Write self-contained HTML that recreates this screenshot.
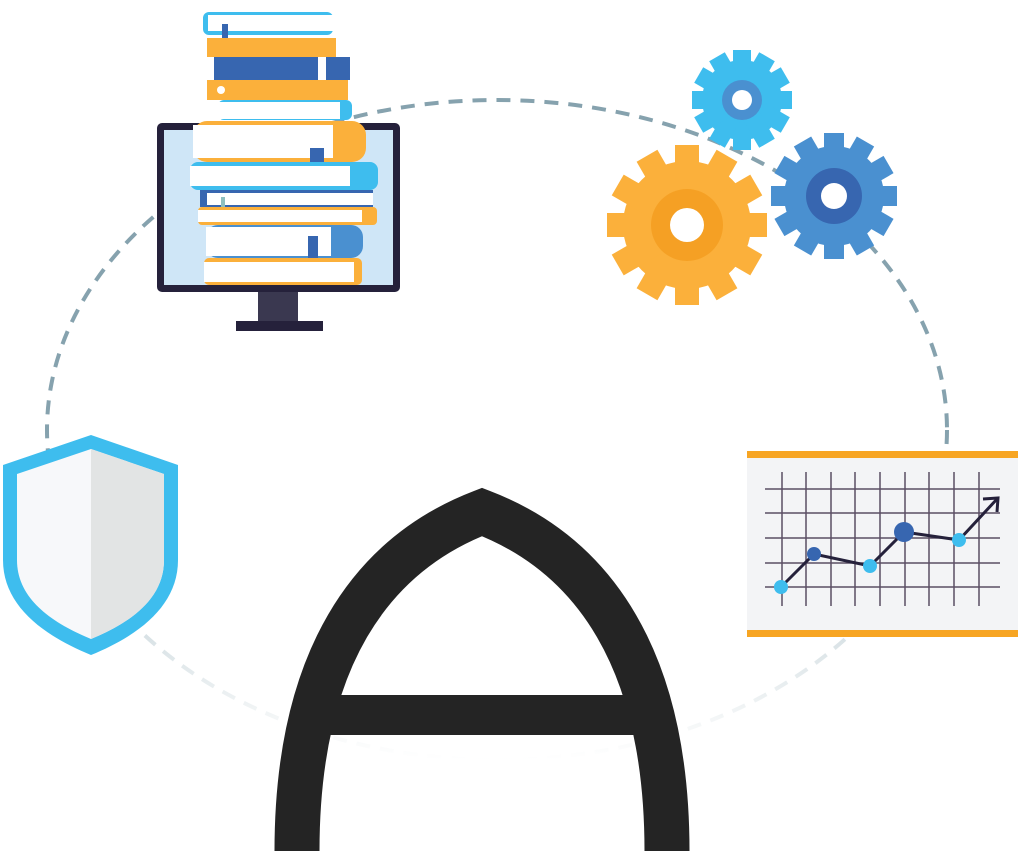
<!DOCTYPE html>
<html><head><style>html,body{margin:0;padding:0;background:#fff;}svg{display:block}</style></head>
<body>
<svg width="1024" height="851" viewBox="0 0 1024 851" xmlns="http://www.w3.org/2000/svg">
<defs>
<linearGradient id="eg" gradientUnits="userSpaceOnUse" x1="0" y1="100" x2="0" y2="760">
<stop offset="0" stop-color="#86a2ae"/><stop offset="0.55" stop-color="#86a2ae"/><stop offset="0.8" stop-color="#d6e0e4"/><stop offset="0.93" stop-color="#f2f5f6"/><stop offset="1" stop-color="#ffffff"/>
</linearGradient>
</defs>
<ellipse cx="497" cy="430" rx="450" ry="330" fill="none" stroke="url(#eg)" stroke-width="4" stroke-dasharray="14 10"/>

<!-- monitor -->
<rect x="157" y="123" width="243" height="169" rx="5" fill="#25213b"/>
<rect x="164" y="130" width="229" height="155" fill="#cfe6f7"/>
<rect x="258" y="292" width="40" height="30" fill="#3a3850"/>
<rect x="236" y="321" width="87" height="10" fill="#25213b"/>

<!-- books -->
<g>
<rect x="203" y="12" width="130" height="23" rx="6" fill="#3ebdee"/><rect x="208" y="15" width="125" height="16" fill="#fff"/>
<rect x="222" y="24" width="6" height="24" fill="#3766b0"/>
<rect x="207" y="38" width="129" height="19" fill="#fbb03b"/>
<rect x="214" y="57" width="136" height="23" fill="#3766b0"/><rect x="318" y="57" width="8" height="23" fill="#fff"/>
<rect x="207" y="80" width="141" height="20" fill="#fbb03b"/><circle cx="221" cy="90" r="4" fill="#fff"/>
<rect x="218" y="100" width="134" height="20" rx="6" fill="#3ebdee"/><rect x="218" y="102" width="122" height="17" fill="#fff"/>
<rect x="193" y="121" width="173" height="41" rx="14" fill="#fbb03b"/><rect x="193" y="125" width="140" height="33" fill="#fff"/>
<rect x="310" y="148" width="14" height="27" fill="#3766b0"/>
<rect x="190" y="162" width="188" height="28" rx="8" fill="#3ebdee"/><rect x="190" y="166" width="160" height="20" fill="#fff"/>
<rect x="200" y="190" width="173" height="17" fill="#3766b0"/><rect x="207" y="193" width="166" height="12" fill="#fff"/>
<rect x="221" y="197" width="4" height="16" fill="#8fc0c0"/>
<rect x="198" y="207" width="179" height="18" rx="4" fill="#fbb03b"/><rect x="198" y="210" width="164" height="12" fill="#fff"/>
<rect x="206" y="225" width="157" height="33" rx="12" fill="#4a90d0"/><rect x="206" y="227" width="125" height="29" fill="#fff"/>
<rect x="308" y="236" width="10" height="36" fill="#3766b0"/>
<rect x="204" y="258" width="158" height="27" rx="5" fill="#fbb03b"/><rect x="204" y="262" width="150" height="20" fill="#fff"/>
</g>

<!-- gears -->
<g transform="translate(742,100)">
<g fill="#3ebdee">
<circle r="40"/>
<rect x="-9" y="-50" width="18" height="100"/>
<rect x="-9" y="-50" width="18" height="100" transform="rotate(30)"/>
<rect x="-9" y="-50" width="18" height="100" transform="rotate(60)"/>
<rect x="-9" y="-50" width="18" height="100" transform="rotate(90)"/>
<rect x="-9" y="-50" width="18" height="100" transform="rotate(120)"/>
<rect x="-9" y="-50" width="18" height="100" transform="rotate(150)"/>
</g>
<circle r="20" fill="#4a90d0"/><circle r="10" fill="#fff"/>
</g>
<g transform="translate(834,196)">
<g fill="#4a90d0">
<circle r="50"/>
<rect x="-10" y="-63" width="20" height="126"/>
<rect x="-10" y="-63" width="20" height="126" transform="rotate(30)"/>
<rect x="-10" y="-63" width="20" height="126" transform="rotate(60)"/>
<rect x="-10" y="-63" width="20" height="126" transform="rotate(90)"/>
<rect x="-10" y="-63" width="20" height="126" transform="rotate(120)"/>
<rect x="-10" y="-63" width="20" height="126" transform="rotate(150)"/>
</g>
<circle r="28" fill="#3766b0"/><circle r="13" fill="#fff"/>
</g>
<g transform="translate(687,225)">
<g fill="#fbb03b">
<circle r="64"/>
<rect x="-12" y="-80" width="24" height="160"/>
<rect x="-12" y="-80" width="24" height="160" transform="rotate(30)"/>
<rect x="-12" y="-80" width="24" height="160" transform="rotate(60)"/>
<rect x="-12" y="-80" width="24" height="160" transform="rotate(90)"/>
<rect x="-12" y="-80" width="24" height="160" transform="rotate(120)"/>
<rect x="-12" y="-80" width="24" height="160" transform="rotate(150)"/>
</g>
<circle r="36" fill="#f5a024"/><circle r="17" fill="#fff"/>
</g>

<!-- shield -->
<path d="M91 435 L178 465 L178 560 C178 605 140 635 91 655 C42 635 3 605 3 560 L3 465 Z" fill="#3ebdee"/>
<path d="M91 449 L164 474 L164 560 C164 598 132 622 91 639 C50 622 17 598 17 560 L17 474 Z" fill="#f7f8fa"/>
<path d="M91 449 L164 474 L164 560 C164 598 132 622 91 639 Z" fill="#e2e4e4"/>

<!-- chart -->
<rect x="747" y="451" width="271" height="186" fill="#f3f4f6"/>
<rect x="747" y="451" width="271" height="7" fill="#f7a523"/>
<rect x="747" y="630" width="271" height="7" fill="#f7a523"/>
<g stroke="#5a4e64" stroke-width="1.5">
<line x1="782" y1="472" x2="782" y2="606"/><line x1="806" y1="472" x2="806" y2="606"/><line x1="831" y1="472" x2="831" y2="606"/>
<line x1="855" y1="472" x2="855" y2="606"/><line x1="880" y1="472" x2="880" y2="606"/><line x1="905" y1="472" x2="905" y2="606"/>
<line x1="929" y1="472" x2="929" y2="606"/><line x1="954" y1="472" x2="954" y2="606"/><line x1="979" y1="472" x2="979" y2="606"/>
<line x1="765" y1="489" x2="1000" y2="489"/><line x1="765" y1="513" x2="1000" y2="513"/><line x1="765" y1="538" x2="1000" y2="538"/>
<line x1="765" y1="563" x2="1000" y2="563"/><line x1="765" y1="587" x2="1000" y2="587"/>
</g>
<polyline points="781,587 814,554 870,566 904,532 959,540 997,499" fill="none" stroke="#25213b" stroke-width="3"/>
<polyline points="983,499 998,498 997,512" fill="none" stroke="#25213b" stroke-width="3"/>
<circle cx="781" cy="587" r="7" fill="#3ebdee"/>
<circle cx="814" cy="554" r="7" fill="#3766b0"/>
<circle cx="870" cy="566" r="7" fill="#3ebdee"/>
<circle cx="904" cy="532" r="10" fill="#3766b0"/>
<circle cx="959" cy="540" r="7" fill="#3ebdee"/>

<!-- A -->
<path d="M297 851 C297 660 370 555 482 512 C594 555 667 660 667 851" fill="none" stroke="#242424" stroke-width="45" stroke-linejoin="miter" stroke-miterlimit="10"/>
<rect x="315" y="695" width="335" height="40" fill="#242424"/>
</svg>
</body></html>
